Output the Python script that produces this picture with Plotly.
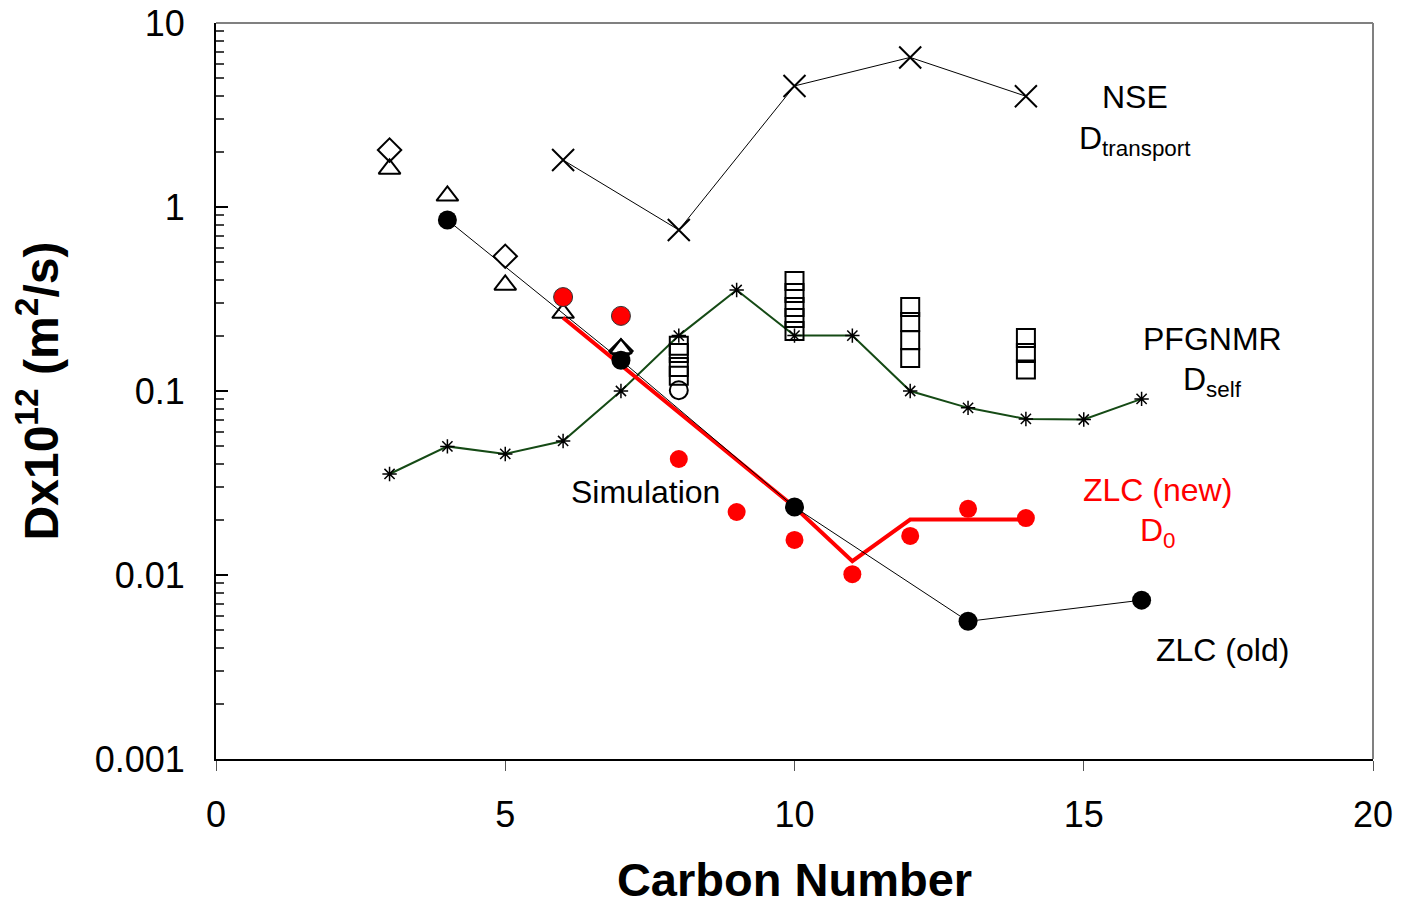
import plotly.graph_objects as go

# NSE D_transport
nse_x = [6, 8, 10, 12, 14]
nse_y = [1.80, 0.75, 4.55, 6.5, 4.0]

# PFGNMR D_self line (asterisks)
pfg_x = [3, 4, 5, 6, 7, 8, 9, 10, 11, 12, 13, 14, 15, 16]
pfg_y = [0.0354, 0.050, 0.0455, 0.0535, 0.10, 0.20, 0.354, 0.20, 0.20, 0.10, 0.081, 0.0705, 0.070, 0.0906]

# PFGNMR squares
sq_x = [8, 8, 8, 8, 10, 10, 10, 10, 10, 12, 12, 12, 12, 14, 14, 14]
sq_y = [0.176, 0.161, 0.135, 0.121, 0.396, 0.341, 0.286, 0.249, 0.212,
        0.286, 0.237, 0.189, 0.151, 0.194, 0.161, 0.131]

# Simulation
sim_dia_x = [3, 5, 7]
sim_dia_y = [2.04, 0.54, 0.165]
sim_tri_x = [3, 4, 5, 6, 7]
sim_tri_y = [1.61, 1.15, 0.377, 0.265, 0.17]
sim_circ_x = [8]
sim_circ_y = [0.101]

# ZLC (old)
old_x = [4, 7, 10, 13, 16]
old_y = [0.85, 0.147, 0.0234, 0.0056, 0.0073]

# ZLC (new) points
new_pt_x = [8, 9, 10, 11, 12, 13, 14]
new_pt_y = [0.0427, 0.022, 0.0155, 0.0101, 0.0163, 0.0229, 0.0204]
new_pt2_x = [6, 7]
new_pt2_y = [0.324, 0.256]
# ZLC (new) fit line
new_ln_x = [6, 10, 11, 12, 13, 14]
new_ln_y = [0.25, 0.0234, 0.0119, 0.020, 0.020, 0.020]

# axis ticks
y_ticks = [0.001, 0.01, 0.1, 1, 10]
y_labels = ["0.001", "0.01", "0.1", "1", "10"]
x_ticks = [0, 5, 10, 15, 20]
y_minor = [m * 10.0 ** e for e in range(-3, 1) for m in range(2, 10)]

fig = go.Figure()

fig.add_trace(go.Scatter(x=pfg_x, y=pfg_y, mode="lines+markers",
                         line=dict(color="#154a15", width=2),
                         marker=dict(symbol="asterisk-open", size=12, color="black",
                                     line=dict(color="black", width=1.5))))
fig.add_trace(go.Scatter(x=nse_x, y=nse_y, mode="lines+markers",
                         line=dict(color="black", width=1),
                         marker=dict(symbol="x-thin-open", size=22, color="black",
                                     line=dict(color="black", width=2))))
fig.add_trace(go.Scatter(x=sq_x, y=sq_y, mode="markers",
                         marker=dict(symbol="square-open", size=18, color="black",
                                     line=dict(color="black", width=2))))
fig.add_trace(go.Scatter(x=sim_dia_x, y=sim_dia_y, mode="markers",
                         marker=dict(symbol="diamond-open", size=18, color="black",
                                     line=dict(color="black", width=2))))
fig.add_trace(go.Scatter(x=sim_tri_x, y=sim_tri_y, mode="markers",
                         marker=dict(symbol="triangle-up-open", size=19, color="black",
                                     line=dict(color="black", width=2))))
fig.add_trace(go.Scatter(x=sim_circ_x, y=sim_circ_y, mode="markers",
                         marker=dict(symbol="circle-open", size=18, color="black",
                                     line=dict(color="black", width=2))))
fig.add_trace(go.Scatter(x=new_ln_x, y=new_ln_y, mode="lines",
                         line=dict(color="#ff0000", width=4)))
fig.add_trace(go.Scatter(x=old_x, y=old_y, mode="lines+markers",
                         line=dict(color="black", width=1),
                         marker=dict(symbol="circle", size=19, color="black")))
fig.add_trace(go.Scatter(x=new_pt2_x, y=new_pt2_y, mode="markers",
                         marker=dict(symbol="circle", size=19, color="#ff0000",
                                     line=dict(color="#333333", width=1))))
fig.add_trace(go.Scatter(x=new_pt_x, y=new_pt_y, mode="markers",
                         marker=dict(symbol="circle", size=18, color="#ff0000")))

font = "Liberation Sans, Arial, sans-serif"
ann = [
    dict(x=15.89, y=0.60, text="NSE", color="black"),
    dict(x=15.89, y=0.36, text="D<sub>transport</sub>", color="black"),
    dict(x=17.23, y=-0.72, text="PFGNMR", color="black"),
    dict(x=17.23, y=-0.95, text="D<sub>self</sub>", color="black"),
    dict(x=7.42, y=-1.55, text="Simulation", color="black"),
    dict(x=16.28, y=-1.54, text="ZLC (new)", color="#ff0000"),
    dict(x=16.28, y=-1.77, text="D<sub>0</sub>", color="#ff0000"),
    dict(x=17.39, y=-2.41, text="ZLC (old)", color="black"),
]
for a in ann:
    fig.add_annotation(x=a["x"], y=a["y"], text=a["text"], showarrow=False,
                       xanchor="center", yanchor="middle",
                       font=dict(family=font, size=32, color=a["color"]))

# top and right border
fig.add_shape(type="line", xref="paper", yref="paper", x0=0, x1=1, y0=1, y1=1,
              line=dict(color="#808080", width=2))
fig.add_shape(type="line", xref="paper", yref="paper", x0=1, x1=1, y0=0, y1=1,
              line=dict(color="#808080", width=2))

fig.update_layout(
    width=1393, height=898,
    margin=dict(l=208, r=28, t=15, b=147),
    paper_bgcolor="white", plot_bgcolor="white",
    showlegend=False,
    font=dict(family=font, color="black"),
    xaxis=dict(range=[0, 20], tickvals=x_ticks, ticks="outside",
               ticklen=10, tickcolor="#555555", showgrid=False, zeroline=False,
               showline=True, linecolor="black", linewidth=2, automargin=False,
               ticklabelstandoff=13, ticklabeloverflow="allow",
               tickfont=dict(size=36, family=font),
               title=dict(text="<b>Carbon Number</b>", font=dict(size=47, family=font),
                          standoff=54)),
    yaxis=dict(type="log", range=[-3, 1],
               tickvals=y_ticks, ticktext=y_labels,
               ticks="inside", ticklen=12, tickcolor="black", tickwidth=1.5,
               minor=dict(tickvals=y_minor, ticks="inside", ticklen=8,
                          tickcolor="#444444", showgrid=False),
               showgrid=False, zeroline=False, automargin=False,
               showline=True, linecolor="black", linewidth=2,
               ticklabelstandoff=22, ticklabeloverflow="allow",
               tickfont=dict(size=36, family=font),
               title=dict(text="<b>Dx10<sup>12</sup> (m<sup>2</sup>/s)</b>",
                          font=dict(size=48, family=font), standoff=22)),
)

fig.write_html("out.html")
